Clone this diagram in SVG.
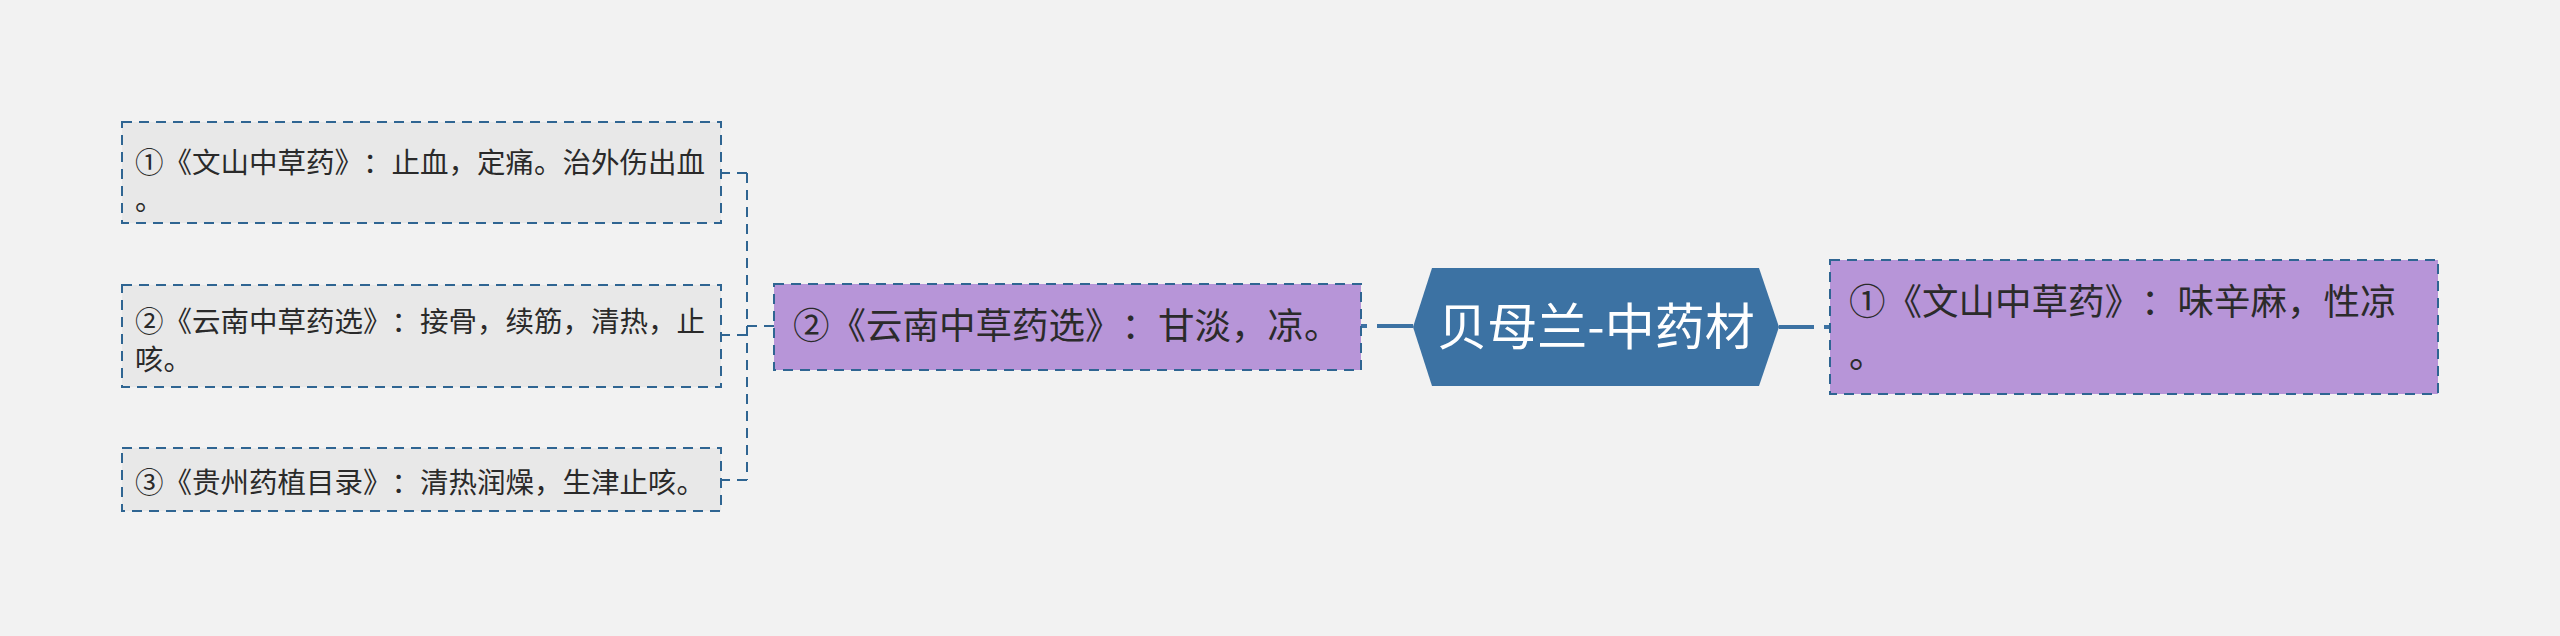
<svg xmlns="http://www.w3.org/2000/svg" width="2560" height="636" viewBox="0 0 2560 636">
<style>
.bg{fill:#F2F2F2}
.grey{fill:#E8E8E8;stroke:#2F6592;stroke-width:2;stroke-dasharray:10 7}
.purple{fill:#B795D8;stroke:#2F6592;stroke-width:2;stroke-dasharray:10 7}
.hex{fill:#3C72A3}
.dash{fill:none;stroke:#2F6592;stroke-width:2;stroke-dasharray:10 7}
.solid{fill:none;stroke:#3C72A3;stroke-width:4}
.t{font-family:"Noto Sans CJK SC","Noto Sans",sans-serif;fill:#2A2A2A;text-spacing-trim:space-all;font-feature-settings:"chws" 0,"halt" 0}
.s{font-size:28.5px}
.m{font-size:36.5px;fill:#2B2B2B}
.c{font-size:50px;fill:#FFFFFF}
</style>
<rect class="bg" x="0" y="0" width="2560" height="636"/>
<g id="connectors">
<path class="dash" d="M774 326 H747"/>
<path class="dash" d="M747 173 V480"/>
<path class="dash" d="M747 173 H722"/>
<path class="dash" d="M747 335 H722"/>
<path class="dash" d="M747 480 H722"/>
<path class="solid" d="M1413 326 H1361" stroke-dasharray="36 10 6"/>
<path class="solid" d="M1779 327 H1830" stroke-dasharray="35 10 6"/>
</g>
<g id="center">
<polygon class="hex" points="1413,327 1432,268 1759,268 1779,327 1759,386 1432,386"/>
<text class="t c" x="1596" y="345" text-anchor="middle">贝母兰-中药材</text>
</g>
<g id="left-main">
<rect class="purple" x="774" y="284" width="587" height="86"/>
<text class="t m" x="793" y="339">②《云南中草药选》：甘淡，凉。</text>
</g>
<g id="right-main">
<rect class="purple" x="1830" y="260" width="608" height="134"/>
<text class="t m" x="1849" y="315">①《文山中草药》：味辛麻，性凉</text>
<text class="t m" x="1849" y="368">。</text>
</g>
<g id="child1">
<rect class="grey" x="122" y="122" width="599" height="101"/>
<text class="t s" x="135" y="173">①《文山中草药》：止血，定痛。治外伤出血</text>
<text class="t s" x="135" y="210">。</text>
</g>
<g id="child2">
<rect class="grey" x="122" y="285" width="599" height="102"/>
<text class="t s" x="135" y="332">②《云南中草药选》：接骨，续筋，清热，止</text>
<text class="t s" x="135" y="370">咳。</text>
</g>
<g id="child3">
<rect class="grey" x="122" y="448" width="599" height="63"/>
<text class="t s" x="135" y="493">③《贵州药植目录》：清热润燥，生津止咳。</text>
</g>
</svg>
